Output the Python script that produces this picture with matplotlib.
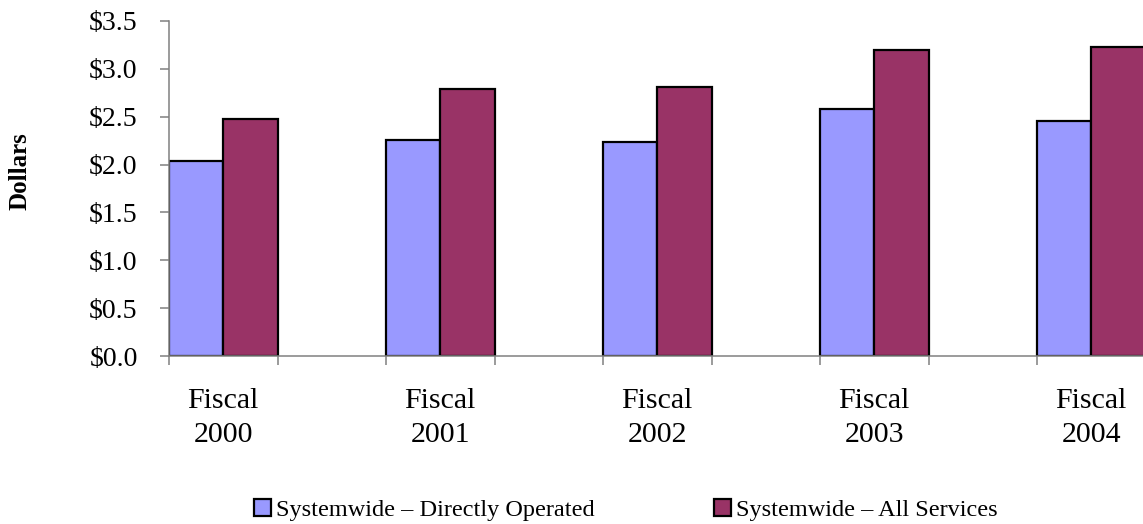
import matplotlib
matplotlib.use('Agg')
import matplotlib.pyplot as plt
from matplotlib.patches import Patch
import numpy as np

plt.rcParams['font.family'] = ['Liberation Serif', 'DejaVu Serif']

# 各年度的平均票价（美元）
years = ['Fiscal\n2000', 'Fiscal\n2001', 'Fiscal\n2002', 'Fiscal\n2003', 'Fiscal\n2004']
directly_operated = [2.04, 2.26, 2.24, 2.58, 2.46]
all_services = [2.48, 2.79, 2.81, 3.20, 3.23]
series_names = ['Systemwide – Directly Operated', 'Systemwide – All Services']
colors = ['#9999FF', '#993366']

fig = plt.figure(figsize=(11.43, 5.24), dpi=100)
# 坐标轴右侧超出画布，最后一组柱子被裁掉一部分
ax = fig.add_axes([169 / 1143, 168 / 524, 1085 / 1143, 335 / 524])

pos = np.arange(len(years)) * 2
bar_w = 0.5
ax.bar(pos - bar_w / 2, directly_operated, width=bar_w, color=colors[0],
       edgecolor='black', linewidth=1.6)
ax.bar(pos + bar_w / 2, all_services, width=bar_w, color=colors[1],
       edgecolor='black', linewidth=1.6)

ax.set_xlim(-0.5, 9.5)
ax.set_ylim(0, 3.5)

# 刻度在分类边界上，标签放在每组柱子中间
ax.set_xticks(np.arange(-0.5, 10, 1.0))
ax.set_xticklabels([])
ax.set_xticks(pos, minor=True)
ax.set_xticklabels(years, minor=True, fontsize=21.5, linespacing=1.4)
ax.tick_params(axis='x', which='minor', length=0, pad=23)
ax.tick_params(axis='x', which='major', length=6.5, width=1.1, color='#808080')

yt = np.arange(0, 3.51, 0.5)
ax.set_yticks(yt)
ax.set_yticklabels([f'${v:.1f}' for v in yt], fontsize=20)
ax.tick_params(axis='y', length=6.5, width=1.1, color='#808080', pad=16)

for s in ['top', 'right']:
    ax.spines[s].set_visible(False)
for s in ['left', 'bottom']:
    ax.spines[s].set_color('#808080')
    ax.spines[s].set_linewidth(1.1)

fig.text(20 / 1143, 1 - 171 / 524, 'Dollars', rotation=90, fontsize=18,
         fontweight='bold', ha='center', va='center')

handles = [Patch(facecolor=c, edgecolor='black', linewidth=1.6) for c in colors]
fig.legend(handles, series_names, loc='center', bbox_to_anchor=(626 / 1143, 1 - 510 / 524),
           ncol=2, frameon=False, fontsize=17.5, handlelength=0.7, handleheight=0.7,
           handletextpad=0.2, columnspacing=4.9, borderpad=0)

fig.savefig('out.png', dpi=100)
plt.close(fig)
